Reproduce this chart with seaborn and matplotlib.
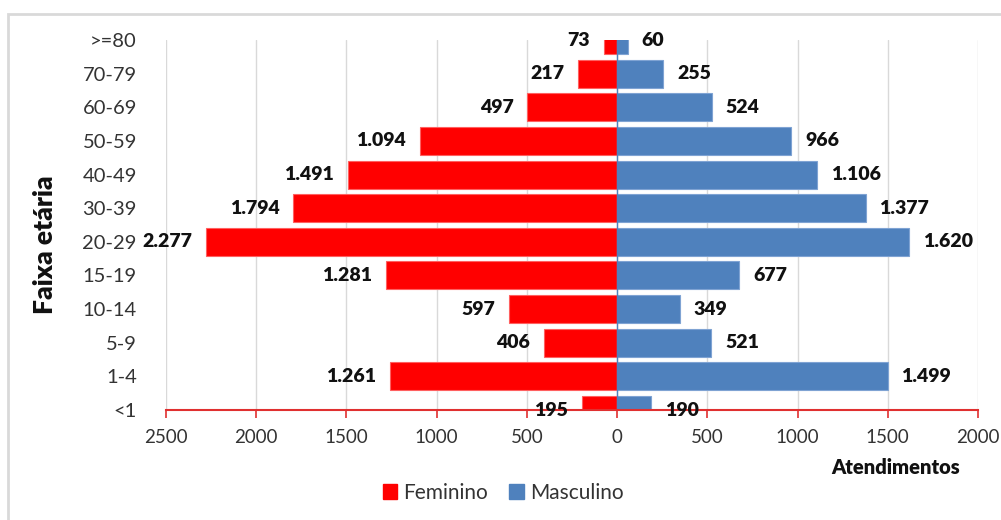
import matplotlib
matplotlib.use("Agg")
import matplotlib.pyplot as plt
import matplotlib.patches as mpatches
import seaborn as sns
import pandas as pd

faixas = ["<1", "1-4", "5-9", "10-14", "15-19", "20-29", "30-39", "40-49",
          "50-59", "60-69", "70-79", ">=80"]
feminino = [195, 1261, 406, 597, 1281, 2277, 1794, 1491, 1094, 497, 217, 73]
masculino = [190, 1499, 521, 349, 677, 1620, 1377, 1106, 966, 524, 255, 60]
xticks = [-2500, -2000, -1500, -1000, -500, 0, 500, 1000, 1500, 2000]

RED = "#FF0000"
BLUE = "#4F81BD"

sns.set_style("white")
plt.rcParams["font.family"] = ["Lato", "DejaVu Sans"]

order = faixas[::-1]
df_f = pd.DataFrame({"faixa": faixas, "valor": [-v for v in feminino], "sexo": "Feminino"})
df_m = pd.DataFrame({"faixa": faixas, "valor": masculino, "sexo": "Masculino"})

fig = plt.figure(figsize=(10.01, 5.2), dpi=100)
ax = fig.add_axes([166/1001, 1-410/520, (978-166)/1001, (410-40)/520])

sns.barplot(data=df_f, x="valor", y="faixa", order=order, orient="h", color=RED,
            width=0.83, ax=ax, edgecolor="#FF6060", linewidth=0.8, saturation=1)
sns.barplot(data=df_m, x="valor", y="faixa", order=order, orient="h", color=BLUE,
            width=0.83, ax=ax, edgecolor="#7FA3D3", linewidth=0.8, saturation=1)

ax.set_ylim(len(faixas) - 1, 0)
ax.set_xlim(-2500, 2000)
ax.set_xticks(xticks)
ax.set_xticklabels([str(abs(t)) for t in xticks], fontsize=13.5, color="#333333")
ax.tick_params(axis="x", bottom=True, direction="out", length=6, width=1.2,
               color="#E03030", pad=8)
ax.tick_params(axis="y", left=False, length=0, pad=21, labelsize=14.5, labelcolor="#333333")
ax.set_axisbelow(True)
ax.grid(axis="x", color="#D9D9D9", linewidth=1)
ax.grid(axis="y", visible=False)
for s in ["left", "right", "top"]:
    ax.spines[s].set_visible(False)
ax.spines["bottom"].set_color("#E03030")
ax.spines["bottom"].set_linewidth(1.5)
ax.spines["bottom"].set_zorder(5)
ax.axvline(0, color=BLUE, linewidth=1, zorder=4)

ax.set_xlabel("")
ax.set_ylabel("")

def fmt(v):
    return f"{v:,}".replace(",", ".")

for i, cat in enumerate(order):
    idx = faixas.index(cat)
    f = feminino[idx]
    m = masculino[idx]
    ax.annotate(fmt(f), xy=(-f, i), xytext=(-10, 0), textcoords="offset points",
                ha="right", va="center", fontsize=14, fontweight="heavy",
                color="#111111", annotation_clip=False, zorder=6)
    ax.annotate(fmt(m), xy=(m, i), xytext=(10, 0), textcoords="offset points",
                ha="left", va="center", fontsize=14, fontweight="heavy",
                color="#111111", annotation_clip=False, zorder=6)

fig.text(45/1001, 1-245/520, "Faixa etária", rotation=90, ha="center", va="center",
         fontsize=19, fontweight="heavy", color="#111111")
fig.text(960/1001, 1-468/520, "Atendimentos", ha="right", va="center",
         fontsize=14.5, fontweight="heavy", color="#111111")

handles = [mpatches.Patch(color=RED, label="Feminino"),
           mpatches.Patch(color=BLUE, label="Masculino")]
fig.legend(handles=handles, loc="center", bbox_to_anchor=(503/1001, 1-493/520), ncol=2,
           frameon=False, fontsize=15, handlelength=0.7, handleheight=0.7,
           handletextpad=0.3, columnspacing=1.0, labelcolor="#333333")

frame = mpatches.Rectangle((8/1001, -0.05), 1.2, 1-14/520 + 0.05, transform=fig.transFigure,
                           fill=False, edgecolor="#D9D9D9", linewidth=2)
fig.patches.append(frame)

fig.savefig("out.png", dpi=100)
